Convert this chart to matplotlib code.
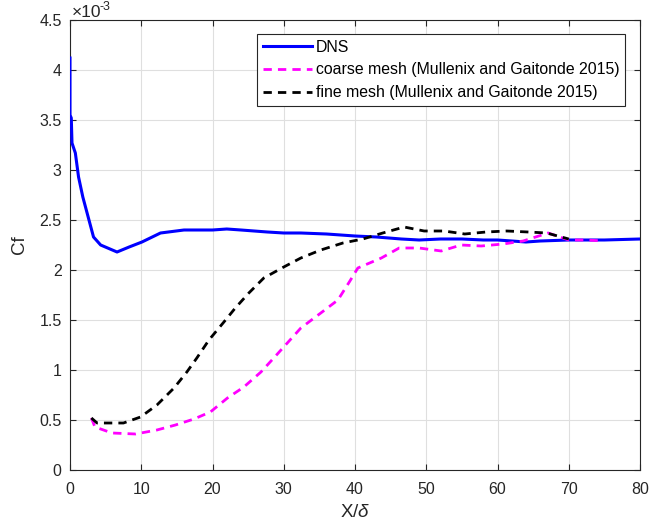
import matplotlib
matplotlib.use("Agg")
import matplotlib.pyplot as plt
import numpy as np

plt.rcParams['font.family'] = ['Liberation Sans', 'DejaVu Sans']
plt.rcParams['mathtext.fontset'] = 'custom'
plt.rcParams['mathtext.rm'] = 'Liberation Sans'
plt.rcParams['mathtext.it'] = 'Liberation Sans:italic'

# Cf values in units of 1e-3
x_dns = [0, 0, 0.18, 0.28, 0.75, 1.2, 1.8, 2.4, 3.3, 4.3, 6.6, 8.3, 10.1, 12.7, 13.8, 16,
         20, 22, 24, 27.7, 30, 32.4, 36, 40, 43, 46.5, 49, 52, 55, 58, 60, 62, 64, 66, 70,
         75, 80]
cf_dns = [4.12, 3.55, 3.52, 3.27, 3.17, 2.93, 2.73, 2.57, 2.33, 2.25, 2.18, 2.23, 2.28, 2.37,
          2.38, 2.40, 2.40, 2.41, 2.40, 2.38, 2.37, 2.37, 2.36, 2.34, 2.33, 2.31, 2.30, 2.31,
          2.31, 2.30, 2.30, 2.29, 2.28, 2.29, 2.30, 2.30, 2.31]

x_coarse = [3.0, 3.5, 5.9, 9.2, 12.2, 14.8, 17.4, 19.7, 22.1, 24.4, 26.8, 28.6, 30.5, 32.4,
            35.2, 37.6, 39.2, 40.4, 43.7, 46.2, 49, 52.1, 54.9, 57.7, 60.8, 63.6, 67.1, 70,
            72.5, 74.9]
cf_coarse = [0.52, 0.43, 0.37, 0.36, 0.40, 0.45, 0.51, 0.58, 0.72, 0.83, 0.98, 1.12, 1.27,
             1.42, 1.57, 1.70, 1.88, 2.02, 2.12, 2.22, 2.22, 2.19, 2.25, 2.24, 2.26, 2.29,
             2.37, 2.30, 2.30, 2.29]

x_fine = [3.0, 3.8, 5.5, 7.5, 9.9, 12.2, 14.6, 16.4, 17.8, 19.5, 21.6, 23.2, 25.1, 27.2,
          30.0, 32.4, 35.2, 38.3, 41.1, 43.9, 46.9, 49.7, 52.5, 55.4, 58.4, 61.3, 64.3,
          66.9, 70.0]
cf_fine = [0.52, 0.47, 0.47, 0.47, 0.53, 0.65, 0.82, 0.98, 1.12, 1.30, 1.48, 1.62, 1.77,
           1.92, 2.03, 2.12, 2.20, 2.27, 2.31, 2.37, 2.43, 2.39, 2.39, 2.36, 2.38, 2.39,
           2.38, 2.37, 2.31]

labels = ["DNS", "coarse mesh (Mullenix and Gaitonde 2015)",
          "fine mesh (Mullenix and Gaitonde 2015)"]
xticks = [0, 10, 20, 30, 40, 50, 60, 70, 80]
yticks = [0, 0.5, 1, 1.5, 2, 2.5, 3, 3.5, 4, 4.5]

fig = plt.figure(figsize=(6.51, 5.31), dpi=100)
ax = fig.add_axes([70/651, 1 - 470/531, 570/651, 450/531])

axc = '#262626'
ax.plot(x_dns, cf_dns, color='#0000ff', lw=2.2, label=labels[0], zorder=3)
ax.plot(x_coarse, cf_coarse, color='#ff00ff', lw=2.0, dashes=(3, 2.2), label=labels[1], zorder=3)
ax.plot(x_fine, cf_fine, color='black', lw=2.0, dashes=(3, 2.2), label=labels[2], zorder=3)

ax.set_xlim(0, 80)
ax.set_ylim(0, 4.5)
ax.set_xticks(xticks)
ax.set_yticks(yticks)
ax.set_yticklabels([f"{v:g}" for v in yticks])
ax.grid(True, color='#dfdfdf', lw=0.8)
ax.set_axisbelow(True)
ax.tick_params(direction='in', top=True, right=True, length=4.5, width=0.8,
               colors=axc, labelsize=11.5, labelcolor=axc)
ax.tick_params(axis='x', pad=9)
ax.tick_params(axis='y', pad=6)
for s in ax.spines.values():
    s.set_color(axc)
    s.set_linewidth(0.8)

ax.set_xlabel(r"X/$\delta$", fontsize=13.5, color=axc, labelpad=5)
ax.set_ylabel("Cf", fontsize=13.5, color=axc, labelpad=8)
ax.text(72/651, 1 - 17/531, "\u00d710", transform=fig.transFigure, fontsize=12.5,
        color=axc, ha='left', va='baseline')
ax.text(100/651, 1 - 10/531, "-3", transform=fig.transFigure, fontsize=9,
        color=axc, ha='left', va='baseline')

leg = ax.legend(loc='upper right', bbox_to_anchor=(625/651, 1 - 34/531),
                bbox_transform=fig.transFigure, fontsize=11.4, frameon=True,
                fancybox=False, edgecolor=axc, framealpha=1, borderpad=0.35,
                handlelength=3.1, handletextpad=0.25, labelspacing=0.5, borderaxespad=0)
leg.get_frame().set_linewidth(0.8)

fig.savefig("out.png", dpi=100)
